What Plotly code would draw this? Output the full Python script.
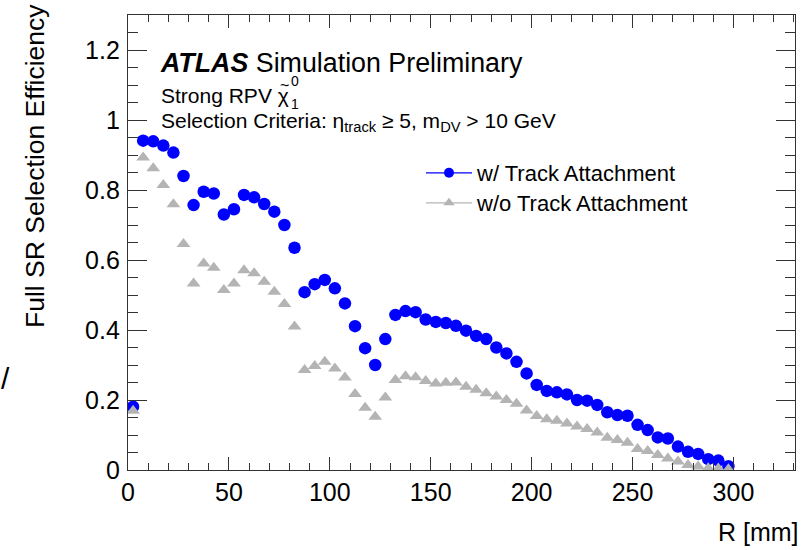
import plotly.graph_objects as go

# ---- data ----
r_centers = [2.5 + 5 * i for i in range(60)]
eff_with = [0.181, 0.941, 0.939, 0.927, 0.907, 0.840, 0.757, 0.795, 0.790, 0.730,
            0.745, 0.786, 0.779, 0.760, 0.738, 0.700, 0.635, 0.508, 0.531, 0.543,
            0.519, 0.476, 0.411, 0.348, 0.300, 0.374, 0.443, 0.454, 0.451, 0.430,
            0.423, 0.420, 0.412, 0.398, 0.383, 0.374, 0.350, 0.333, 0.309, 0.276,
            0.243, 0.226, 0.222, 0.216, 0.200, 0.198, 0.186, 0.165, 0.157, 0.155,
            0.129, 0.114, 0.093, 0.090, 0.067, 0.052, 0.046, 0.031, 0.027, 0.011]
eff_without = [0.169, 0.893, 0.862, 0.814, 0.759, 0.646, 0.533, 0.590, 0.578, 0.514,
               0.533, 0.571, 0.562, 0.538, 0.509, 0.474, 0.410, 0.286, 0.297, 0.309,
               0.290, 0.264, 0.217, 0.178, 0.152, 0.207, 0.257, 0.268, 0.265, 0.254,
               0.247, 0.249, 0.250, 0.238, 0.229, 0.219, 0.210, 0.200, 0.189, 0.170,
               0.154, 0.145, 0.141, 0.133, 0.124, 0.117, 0.107, 0.092, 0.086, 0.078,
               0.060, 0.054, 0.043, 0.033, 0.024, 0.014, 0.010, 0.005, 0.004, 0.002]
series_names = ["w/ Track Attachment", "w/o Track Attachment"]

BLUE = "#0000ff"
GRAY = "#b4b4b4"
FONT = "Liberation Sans, Arial, sans-serif"

W, H = 803, 550
ML, MR, MT, MB = 128, 8, 15, 80
PW, PH = W - ML - MR, H - MT - MB


def px(x):
    return (x - ML) / PW


def py(y):
    return (H - MB - y) / PH


fig = go.Figure()
fig.add_trace(go.Scatter(x=r_centers, y=eff_with, mode="markers",
                         marker=dict(symbol="circle", size=12.5, color=BLUE),
                         showlegend=False))
fig.add_trace(go.Scatter(x=r_centers, y=eff_without, mode="markers",
                         marker=dict(symbol="triangle-up", size=12, color=GRAY),
                         showlegend=False))
# legend entries (ROOT-style line + marker)
fig.add_trace(go.Scatter(x=[None], y=[None], mode="lines+markers", name=series_names[0],
                         line=dict(color=BLUE, width=1.2), legend="legend",
                         marker=dict(symbol="circle", size=10, color=BLUE)))
fig.add_trace(go.Scatter(x=[None], y=[None], mode="lines+markers", name=series_names[1],
                         line=dict(color=GRAY, width=1.2), legend="legend2",
                         marker=dict(symbol="triangle-up", size=10, color=GRAY)))

axis_common = dict(showgrid=False, zeroline=False, showline=True, linecolor="#333333",
                   linewidth=1.3, mirror="ticks", ticks="inside", tickcolor="#333333",
                   tickwidth=1.3, tickfont=dict(family=FONT, size=25, color="black"))

fig.update_xaxes(range=[0, 330.5], dtick=50, tick0=0, ticklen=13,
                 minor=dict(dtick=10, ticklen=7, ticks="inside", tickcolor="#333333", tickwidth=1.3),
                 **axis_common)
fig.update_yaxes(range=[0, 1.3], dtick=0.2, tick0=0, ticklen=19, ticklabelstandoff=2,
                 minor=dict(dtick=0.05, ticklen=10, ticks="inside", tickcolor="#333333", tickwidth=1.3),
                 **axis_common)

ann = []
ann.append(dict(text="<b><i>ATLAS</i></b> Simulation Preliminary", x=px(158), y=py(63),
                font=dict(size=26.8)))
ann.append(dict(text="Strong RPV χ", x=px(159), y=py(95), font=dict(size=21)))
ann.append(dict(text="~", x=px(278), y=py(85), font=dict(size=16)))
ann.append(dict(text="0", x=px(289), y=py(81), font=dict(size=14)))
ann.append(dict(text="1", x=px(289), y=py(104), font=dict(size=14)))
ann.append(dict(text="Selection Criteria: η<sub>track</sub> ≥ 5, m<sub>DV</sub> > 10 GeV",
                x=px(159), y=py(122), font=dict(size=21)))
annotations = []
for a in ann:
    a.update(xref="paper", yref="paper", xanchor="left", yanchor="middle", showarrow=False)
    a["font"].update(family=FONT, color="black")
    annotations.append(a)

annotations.append(dict(text="Full SR Selection Efficiency", textangle=-90, xref="paper", yref="paper",
                        x=px(35), y=py(166), xanchor="center", yanchor="middle", showarrow=False,
                        font=dict(family=FONT, size=26.5, color="black")))
annotations.append(dict(text="R [mm]", xref="paper", yref="paper", x=px(801), y=py(532),
                        xanchor="right", yanchor="middle", showarrow=False,
                        font=dict(family=FONT, size=25, color="black")))
annotations.append(dict(text="/", xref="paper", yref="paper", x=px(-1), y=py(378),
                        xanchor="left", yanchor="middle", showarrow=False,
                        font=dict(family=FONT, size=30, color="black")))

leg_common = dict(xanchor="left", yanchor="middle", bgcolor="rgba(0,0,0,0)", borderwidth=0,
                  itemwidth=46, font=dict(family=FONT, size=22, color="black"))
fig.update_layout(
    width=W, height=H,
    margin=dict(l=ML, r=MR, t=MT, b=MB),
    paper_bgcolor="white", plot_bgcolor="white",
    annotations=annotations,
    legend=dict(x=px(421), y=py(173), **leg_common),
    legend2=dict(x=px(421), y=py(203), **leg_common),
)

fig.write_html("out.html")
